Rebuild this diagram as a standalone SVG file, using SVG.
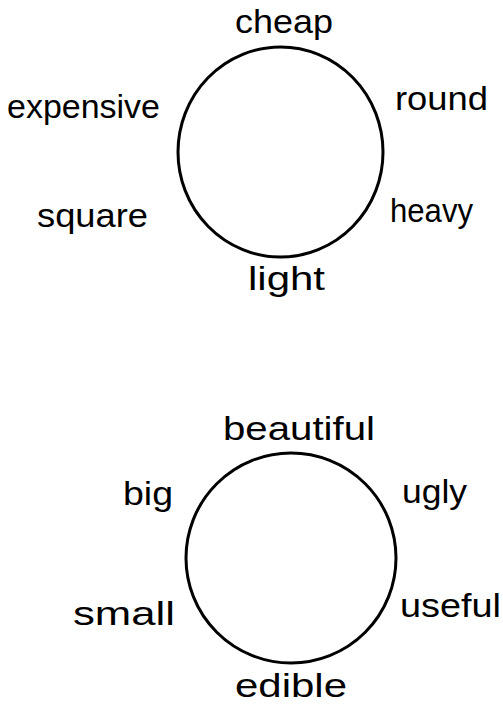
<svg xmlns="http://www.w3.org/2000/svg" width="503" height="704" viewBox="0 0 503 704">
<style>
.lbl{font-family:"Liberation Sans","DejaVu Sans",sans-serif;font-size:34px;fill:#000;}
.ring{fill:none;stroke:#000;stroke-width:3;}
</style>
<rect width="503" height="704" fill="#fff"/>
<g id="circle1"><ellipse class="ring" cx="280.5" cy="152" rx="102.5" ry="105"/></g>
<g id="circle2"><ellipse class="ring" cx="291" cy="558" rx="105" ry="105"/></g>
<g id="labels1">
<text class="lbl" x="235" y="33" textLength="98" lengthAdjust="spacingAndGlyphs">cheap</text>
<text class="lbl" x="7" y="118" textLength="153" lengthAdjust="spacingAndGlyphs">expensive</text>
<text class="lbl" x="395" y="110" textLength="93" lengthAdjust="spacingAndGlyphs">round</text>
<text class="lbl" x="37" y="227" textLength="111" lengthAdjust="spacingAndGlyphs">square</text>
<text class="lbl" x="390" y="222" textLength="83" lengthAdjust="spacingAndGlyphs">heavy</text>
<text class="lbl" x="248" y="290" textLength="77" lengthAdjust="spacingAndGlyphs">light</text>
</g>
<g id="labels2">
<text class="lbl" x="223" y="440" textLength="152" lengthAdjust="spacingAndGlyphs">beautiful</text>
<text class="lbl" x="123" y="505" textLength="50" lengthAdjust="spacingAndGlyphs">big</text>
<text class="lbl" x="402" y="503" textLength="65" lengthAdjust="spacingAndGlyphs">ugly</text>
<text class="lbl" x="73" y="625" textLength="102" lengthAdjust="spacingAndGlyphs">small</text>
<text class="lbl" x="400" y="617" textLength="101" lengthAdjust="spacingAndGlyphs">useful</text>
<text class="lbl" x="235" y="697" textLength="112" lengthAdjust="spacingAndGlyphs">edible</text>
</g>
</svg>
